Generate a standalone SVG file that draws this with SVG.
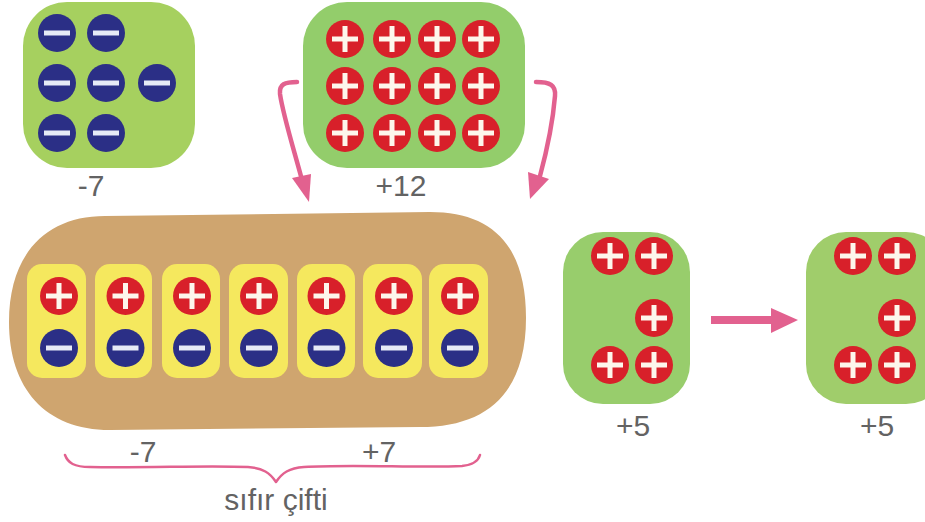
<svg xmlns="http://www.w3.org/2000/svg" width="925" height="522" viewBox="0 0 925 522">
<style>
text{font-family:"Liberation Sans",Arial,sans-serif;font-size:30px;fill:#636363;text-anchor:middle}
.g1{fill:#a6d05f}.g2{fill:#93cd6b}.g3{fill:#98cd6c}.g4{fill:#a0cd6b}
.y{fill:#f5e85e}
.conn{fill:none;stroke:#e2618f;stroke-width:4.5;stroke-linecap:round;stroke-linejoin:round}
.head{fill:#e2618f}
</style>
<defs>
<g id="p"><circle r="19" fill="#d8202a"/><path d="M-13 0H13M0-13V13" stroke="#fdf6ec" stroke-width="5" fill="none"/></g>
<g id="m"><circle r="19" fill="#2b2f86"/><path d="M-13 0H13" stroke="#e6eaf6" stroke-width="5" fill="none"/></g>
</defs>
<rect width="925" height="522" fill="#fff"/>
<g id="node-minus7">
<rect class="g1" x="23" y="2" width="172" height="166" rx="44"/>
<use href="#m" x="57" y="33"/><use href="#m" x="106" y="33"/>
<use href="#m" x="57" y="83"/><use href="#m" x="106" y="83"/><use href="#m" x="157" y="83"/>
<use href="#m" x="57" y="133"/><use href="#m" x="106" y="133"/>
<text x="91" y="196">-7</text>
</g>
<g id="node-plus12">
<rect class="g2" x="303" y="2" width="222" height="166" rx="44"/>
<use href="#p" x="345" y="39"/><use href="#p" x="392" y="39"/><use href="#p" x="437" y="39"/><use href="#p" x="481" y="39"/>
<use href="#p" x="345" y="86"/><use href="#p" x="392" y="86"/><use href="#p" x="437" y="86"/><use href="#p" x="481" y="86"/>
<use href="#p" x="345" y="133"/><use href="#p" x="392" y="133"/><use href="#p" x="437" y="133"/><use href="#p" x="481" y="133"/>
<text x="401" y="196">+12</text>
</g>
<g id="node-pairs">
<path fill="#cfa56f" d="M105 216L430 212C492 212 526 245 526 318C526 392 488 427 420 427L110 430C45 430 9 388 9 322C9 255 45 216 105 216Z"/>
<rect class="y" x="27" y="264" width="59" height="114" rx="15"/>
<rect class="y" x="95" y="264" width="57" height="114" rx="15"/>
<rect class="y" x="162" y="264" width="58" height="114" rx="15"/>
<rect class="y" x="229" y="264" width="59" height="114" rx="15"/>
<rect class="y" x="297" y="264" width="58" height="114" rx="15"/>
<rect class="y" x="363" y="264" width="59" height="114" rx="15"/>
<rect class="y" x="429" y="264" width="59" height="114" rx="15"/>
<use href="#p" x="59" y="296"/><use href="#p" x="125.500" y="296"/><use href="#p" x="192" y="296"/><use href="#p" x="259" y="296"/><use href="#p" x="326.500" y="296"/><use href="#p" x="394" y="296"/><use href="#p" x="460" y="296"/>
<use href="#m" x="59" y="348"/><use href="#m" x="125.500" y="348"/><use href="#m" x="192" y="348"/><use href="#m" x="259" y="348"/><use href="#m" x="326.500" y="348"/><use href="#m" x="394" y="348"/><use href="#m" x="460" y="348"/>
<text x="143" y="462">-7</text>
<text x="379" y="462">+7</text>
<text x="276" y="510">sıfır çifti</text>
</g>
<g id="node-plus5-a">
<rect class="g3" x="563" y="232" width="127" height="172" rx="40"/>
<use href="#p" x="610" y="256"/><use href="#p" x="654" y="256"/><use href="#p" x="654" y="318"/><use href="#p" x="610" y="365"/><use href="#p" x="654" y="365"/>
<text x="633" y="436">+5</text>
</g>
<g id="node-plus5-b">
<rect class="g4" x="806" y="232" width="140" height="172" rx="40"/>
<use href="#p" x="853" y="256"/><use href="#p" x="897" y="256"/><use href="#p" x="897" y="318"/><use href="#p" x="853" y="365"/><use href="#p" x="897" y="365"/>
<text x="877" y="436">+5</text>
</g>
<g id="connectors">
<path class="conn" d="M297 82C285 82 279 84 280 94C283 115 294 150 302 180"/>
<path class="head" d="M292 178L311 174L309 202Z"/>
<path class="conn" d="M536 82C550 82 556 85 555 96C553 120 547 150 540 176"/>
<path class="head" d="M528 172L549 179L530 199Z"/>
<path class="conn" style="stroke-width:8;stroke-linecap:butt" d="M711 320H775"/>
<path class="head" d="M771 308L798 320L771 333Z"/>
<path class="conn" style="stroke-width:2.500" d="M65 455C68 463 74 467 90 467C150 468 210 465 248 467C263 468 270 473 276 482C282 473 289 468 304 467C350 464 420 468 462 466C472 465 478 462 480 455"/>
</g>
</svg>
